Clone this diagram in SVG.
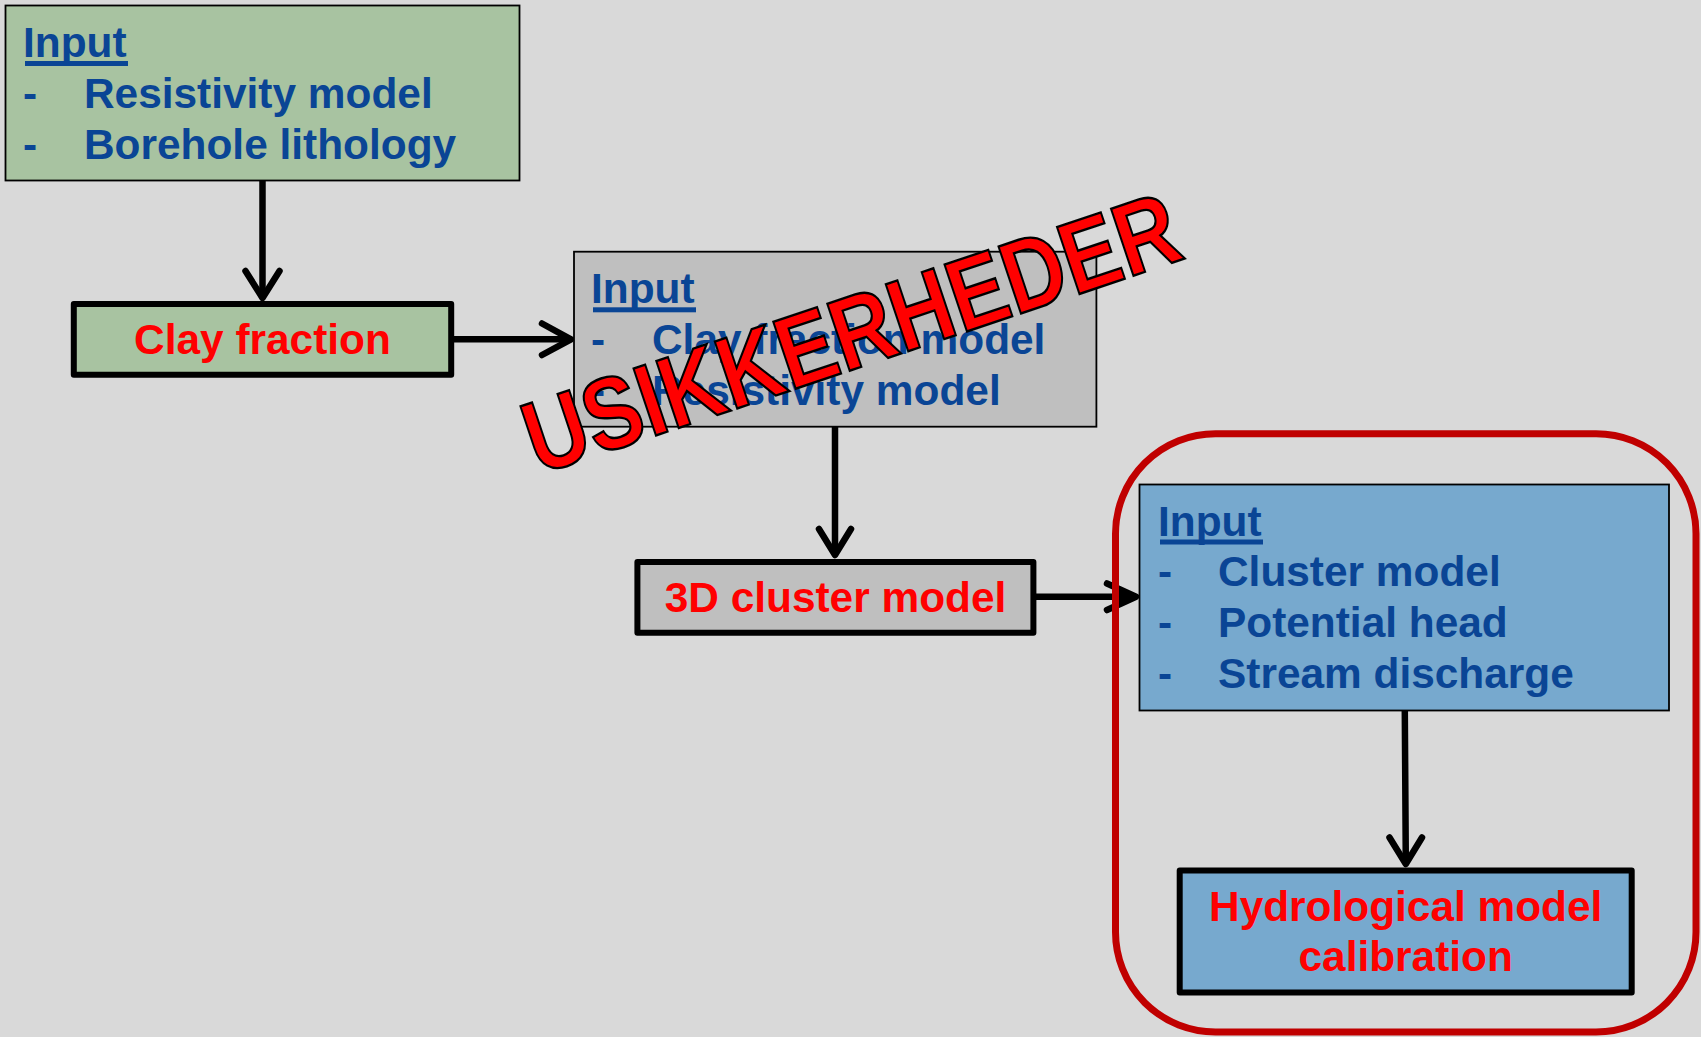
<svg xmlns="http://www.w3.org/2000/svg" width="1701" height="1037" viewBox="0 0 1701 1037">
<style>
.t{font-family:"Liberation Sans",Arial,sans-serif;font-weight:bold;font-size:42.4px}
.b{fill:#0A4595}
.r{fill:#FF0000}
.thin{stroke:#000;stroke-width:1.8}
.thick{stroke:#000;stroke-width:6;stroke-linejoin:round}
.ln{fill:none;stroke:#000;stroke-width:6.5;stroke-linecap:round;stroke-linejoin:round}
.ul{fill:#0A4595}
</style>
<rect x="0" y="0" width="1701" height="1037" fill="#D9D9D9"/>
<g id="connectors">
<path class="ln" d="M262.5,181 V296"/>
<path class="ln" d="M245.5,271 L262.5,298 L279.5,271"/>
<path class="ln" d="M454,339.3 H569"/>
<path class="ln" d="M542,323.5 L571,339.3 L542,355"/>
<path class="ln" d="M835,427 V553"/>
<path class="ln" d="M819,529 L835,555 L851,529"/>
<path class="ln" d="M1036,596.7 H1130"/>
<path class="ln" d="M1107,583.5 L1136,596.7 L1107,610"/>
<polygon points="1112,586 1139.5,596.7 1112,607.5" fill="#000"/>
<path class="ln" d="M1404.8,711 L1405.8,862"/>
<path class="ln" d="M1389.5,837.5 L1405.8,864 L1422,837.5"/>
</g>
<g id="input1">
<rect class="thin" x="5.5" y="5.5" width="514" height="175" fill="#A8C3A1"/>
<text class="t b" x="23" y="57">Input</text>
<rect class="ul" x="25" y="61" width="103" height="5"/>
<text class="t b" x="23" y="108.3">-</text>
<text class="t b" x="84" y="108.3">Resistivity model</text>
<text class="t b" x="23" y="159.3">-</text>
<text class="t b" x="84" y="159.3">Borehole lithology</text>
</g>
<g id="clay">
<rect class="thick" x="73.8" y="304" width="377.4" height="70.7" fill="#A8C3A1"/>
<text class="t r" x="262.5" y="354.3" text-anchor="middle">Clay fraction</text>
</g>
<g id="input2">
<rect class="thin" x="574" y="251.7" width="522.4" height="175" fill="#BFBFBF"/>
<text class="t b" x="591" y="303.3">Input</text>
<rect class="ul" x="593" y="307.3" width="103" height="5"/>
<text class="t b" x="591" y="354.3">-</text>
<text class="t b" x="652" y="354.3">Clay fraction model</text>
<text class="t b" x="591" y="405.3">-</text>
<text class="t b" x="652" y="405.3">Resistivity model</text>
</g>
<g id="cluster">
<rect class="thick" x="637.4" y="562" width="396" height="70.7" fill="#BFBFBF"/>
<text class="t r" x="835.5" y="612.3" text-anchor="middle">3D cluster model</text>
</g>
<g id="group-hydro">
<rect x="1115.5" y="433.8" width="580.5" height="598.2" rx="100" ry="100" fill="none" stroke="#C00000" stroke-width="7"/>
</g>
<g id="input3">
<rect class="thin" x="1139.5" y="484.5" width="529.5" height="226" fill="#77A9CE"/>
<text class="t b" x="1158" y="535.5">Input</text>
<rect class="ul" x="1160" y="539.5" width="103" height="5"/>
<text class="t b" x="1158" y="586">-</text>
<text class="t b" x="1218" y="586">Cluster model</text>
<text class="t b" x="1158" y="637">-</text>
<text class="t b" x="1218" y="637">Potential head</text>
<text class="t b" x="1158" y="688">-</text>
<text class="t b" x="1218" y="688">Stream discharge</text>
</g>
<g id="hydro">
<rect class="thick" x="1179.7" y="870.6" width="452" height="122" fill="#77A9CE"/>
<text class="t r" x="1405.7" y="920.8" text-anchor="middle">Hydrological model</text>
<text class="t r" x="1405.7" y="971" text-anchor="middle">calibration</text>
</g>
<g id="watermark">
<text x="0" y="0" transform="translate(538 475) rotate(-18.5) scale(1 1.2)" font-family="Liberation Sans, Arial, sans-serif" font-weight="bold" font-size="85.5" fill="#FF0000" stroke="#000" stroke-width="2">USIKKERHEDER</text>
</g>
</svg>
